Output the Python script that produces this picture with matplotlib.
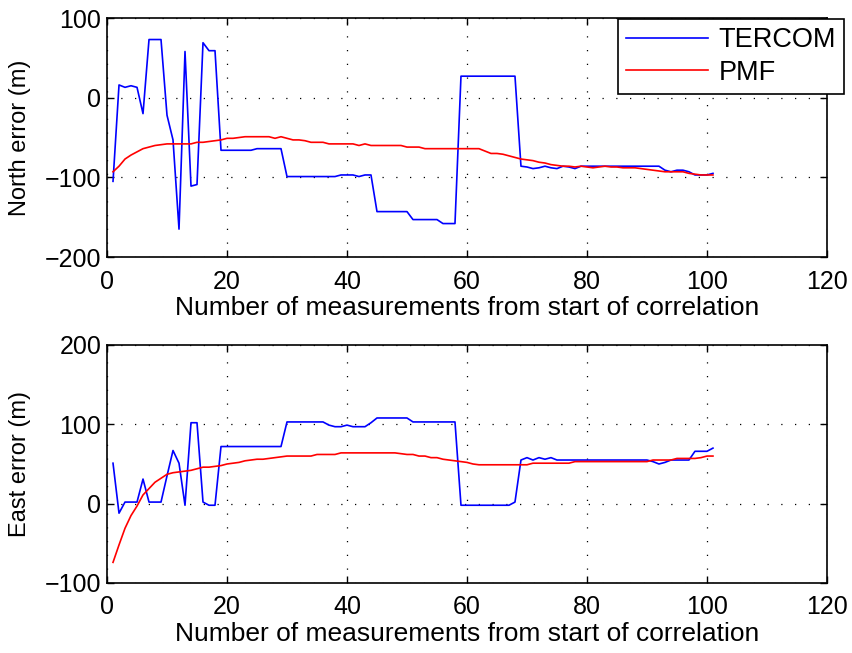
import matplotlib
matplotlib.use('Agg')
import matplotlib.pyplot as plt
import numpy as np

plt.rcParams['font.family'] = ['Liberation Sans', 'DejaVu Sans']

# measurement index 1..101
n = np.arange(1, 102)

north_tercom = ([-105, 16, 13, 15, 13, -20, 73, 73, 73, -22, -53, -165, 58, -111, -109, 69, 59, 59, -66]
                + [-66] * 5 + [-64] * 5 + [-99] * 9
                + [-97, -97, -97, -99, -97, -97]
                + [-143] * 6 + [-153] * 5 + [-158] * 3 + [27] * 10
                + [-86, -87, -89, -88, -86, -88, -89, -86, -87, -89, -86]
                + [-86] * 13
                + [-91, -93, -91, -91, -93, -97, -97, -97, -95])

north_pmf = ([-93, -86, -77, -72, -68, -64, -62, -60, -59, -58]
             + [-58] * 4
             + [-56, -56, -55, -54, -53, -51, -51, -50]
             + [-49] * 5
             + [-51, -49, -51, -53, -53, -54]
             + [-56] * 3 + [-58] * 5
             + [-60, -58, -60]
             + [-60] * 5 + [-62] * 3 + [-64] * 10
             + [-67, -70, -70, -71, -73, -75, -77, -78, -79, -81, -82, -84, -85, -86, -86]
             + [-87, -86, -87, -88, -87, -86, -87, -87]
             + [-88] * 3
             + [-89, -90, -91, -92, -93]
             + [-93] * 3
             + [-95, -96, -97, -97, -97])

east_tercom = ([51, -12, 2, 2, 2, 31, 2, 2, 2, 35, 67, 51, -2, 102, 102, 2, -2, -2]
               + [72] * 11 + [103] * 7
               + [99, 97, 97, 99, 97, 97, 97, 102]
               + [108] * 6 + [103] * 8 + [-2] * 9
               + [2, 55, 58, 55, 58, 56, 58, 55]
               + [55] * 15
               + [53, 50, 52, 55]
               + [55] * 3
               + [66, 66, 66, 70])

east_pmf = ([-74, -52, -31, -15, -3, 11, 19, 27, 32, 37, 39, 40, 41, 42, 44, 46, 46, 47, 48, 50,
             51, 52, 54, 55, 56, 56, 57, 58, 59]
            + [60] * 5 + [62] * 4 + [64] * 10
            + [63, 62, 62, 60, 60, 58, 58, 56, 55, 54, 53, 52, 50]
            + [49] * 9 + [51] * 7 + [53] * 13 + [55] * 4 + [57] * 4
            + [58, 60, 60])

fig = plt.figure(figsize=(8.52, 6.53), dpi=100)
ax1 = fig.add_axes([0.1256, 0.6064, 0.845, 0.366])
ax2 = fig.add_axes([0.1256, 0.1072, 0.845, 0.3645])

xlabel = 'Number of measurements from start of correlation'

for ax, tercom, pmf, ylab, ylim, yticks in [
        (ax1, north_tercom, north_pmf, 'North error (m)', (-200, 100), [-200, -100, 0, 100]),
        (ax2, east_tercom, east_pmf, 'East error (m)', (-100, 200), [-100, 0, 100, 200])]:
    ax.plot(n, tercom, color='#0000ff', lw=1.2, label='TERCOM')
    ax.plot(n, pmf, color='#ff0000', lw=1.2, label='PMF')
    ax.set_xlim(0, 120)
    ax.set_ylim(*ylim)
    ax.set_xticks([0, 20, 40, 60, 80, 100, 120])
    ax.set_yticks(yticks)
    ax.set_yticklabels([str(v).replace('-', '\u2212') for v in yticks])
    ax.grid(True, color='black', linestyle=(0, (1, 10)), linewidth=0.9)
    ax.tick_params(direction='in', top=True, right=True, labelsize=18, length=5, width=1)
    ax.tick_params(axis='x', pad=9)
    ax.tick_params(axis='y', pad=4)
    for s in ax.spines.values():
        s.set_linewidth(1.2)
    ax.set_xlabel(xlabel, fontsize=19, labelpad=2)
    ax.set_ylabel(ylab, fontsize=17, labelpad=10)

leg = ax1.legend(loc='upper right', bbox_to_anchor=(844 / 852, 1 - 19 / 653),
                 bbox_transform=fig.transFigure, fontsize=19.5, fancybox=False,
                 framealpha=1, edgecolor='black', handlelength=3.0, handletextpad=0.4,
                 borderaxespad=0, borderpad=0.3, labelspacing=0.25)
leg.get_frame().set_linewidth(1.2)

fig.savefig('out.png', dpi=100)
